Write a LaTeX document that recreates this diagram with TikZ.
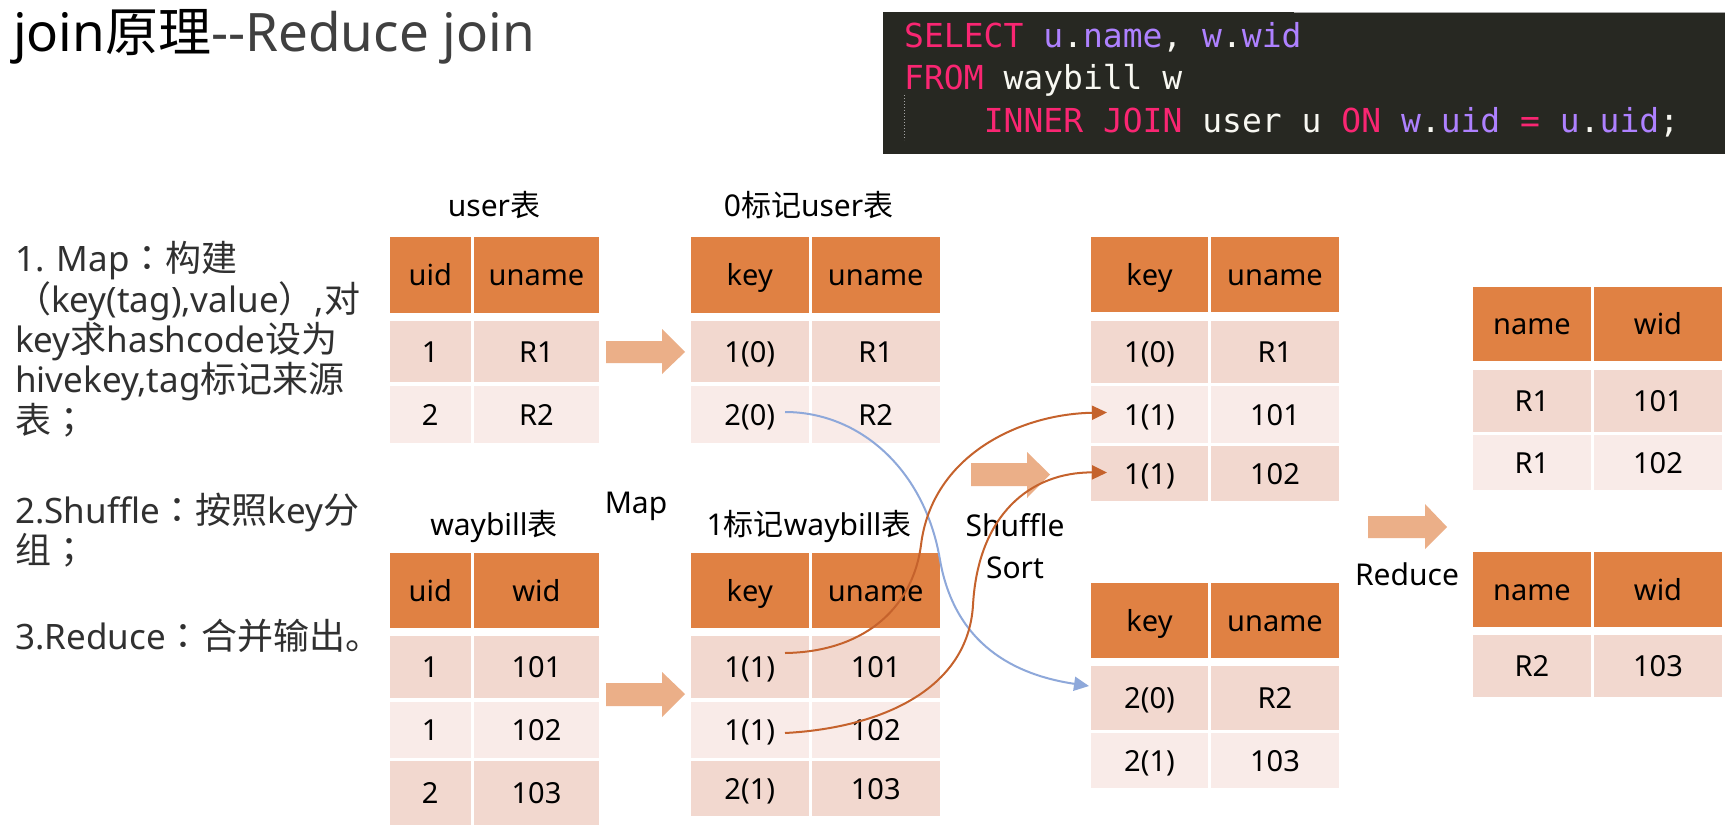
\documentclass[tikz,border=0pt]{standalone}
\usepackage{fontspec}
\setmainfont{Noto Sans}[Ligatures={TeX,NoCommon}]
\newfontfamily\cjk{Noto Sans CJK SC}
\newfontfamily\cjktc{Noto Sans CJK TC}
\newfontfamily\mono{DejaVu Sans Mono}
\newcommand\Lsc{\cjk\fontsize{36}{40}\selectfont}
\newcommand\Ltc{\cjktc\fontsize{36}{40}\selectfont}
\usetikzlibrary{arrows.meta}
\definecolor{hdr}{HTML}{E08143}
\definecolor{rowA}{HTML}{F2D8CF}
\definecolor{rowB}{HTML}{F9EBE8}
\definecolor{fatc}{HTML}{EBAF88}
\definecolor{brn}{HTML}{C5622C}
\definecolor{blu}{HTML}{8EA8DA}
\definecolor{codebg}{HTML}{272822}
\definecolor{kw}{HTML}{F92672}
\definecolor{pu}{HTML}{AE81FF}
\definecolor{wt}{HTML}{F8F8F2}
\definecolor{ltxt}{HTML}{303030}
\definecolor{tgray}{HTML}{404040}
\tikzset{
  cell/.style={inner sep=0pt, outer sep=0pt, text=black, font=\fontsize{29}{34}\selectfont, text height=21pt, text depth=0pt},
  hd/.style={cell, fill=hdr},
  ra/.style={cell, fill=rowA},
  rb/.style={cell, fill=rowB},
  sz/.style 2 args={minimum width=#1pt, minimum height=#2pt},
  lbl/.style={inner sep=0pt, anchor=base, text=black, font=\fontsize{30}{36}\selectfont},
  lefttxt/.style={inner sep=0pt, anchor=base west, text=ltxt, font=\fontsize{35}{40}\selectfont},
  codeline/.style={inner sep=0pt, anchor=base west, text=wt, font=\mono\fontsize{33}{40}\selectfont},
  fat/.style={fill=fatc},
  brnarr/.style={draw=brn, line width=2pt, -{Triangle[length=15pt,width=14pt]}},
  bluarr/.style={draw=blu, line width=2pt, -{Triangle[length=15pt,width=14pt]}},
}
\begin{document}
\begin{tikzpicture}[x=1pt,y=-1pt]
\useasboundingbox[fill=white] (0,0) rectangle (1735,835);

% title
\node[inner sep=0pt, anchor=base west, font=\fontsize{53}{60}\selectfont] (title) at (13,51)
  {join{\cjk 原理}\textcolor{tgray}{-{}-Reduce join}};

% code box
\fill[codebg] (883,12) rectangle (1725,154);
\draw[color=gray!70, line width=1.2pt] (1294,12.6) -- (1725,12.6);
\draw[color=gray!70, line width=1pt, dotted] (904,95) -- (904,140);
\node[codeline] (l1) at (904,47) {\color{kw}SELECT \color{pu}u\color{wt}.\color{pu}name\color{wt}, \color{pu}w\color{wt}.\color{pu}wid};
\node[codeline] (l2) at (904,89.5) {\color{kw}FROM \color{wt}waybill w};
\node[codeline] (l3) at (983.6,132) {\color{kw}INNER JOIN \color{wt}user u \color{kw}ON \color{pu}w\color{wt}.\color{pu}uid \color{kw}= \color{pu}u\color{wt}.\color{pu}uid\color{wt};};

% left description
\node[lefttxt] (t1) at (15,271) {1. Map{\Ltc ：}{\Lsc 构建}};
\node[lefttxt] (t2) at (15,312) {{\Ltc （}key(tag),value{\Ltc ）},{\Lsc 对}};
\node[lefttxt] (t3) at (15,352) {key{\Lsc 求}hashcode{\Lsc 设为}};
\node[lefttxt] (t4) at (15,392.5) {hivekey,tag{\Lsc 标记来源}};
\node[lefttxt] (t5) at (15,433) {{\Lsc 表}{\Ltc ；}};
\node[lefttxt] (t6) at (15,523) {2.Shuffle{\Ltc ：}{\Lsc 按照}key{\Lsc 分}};
\node[lefttxt] (t7) at (15,563) {{\Lsc 组}{\Ltc ；}};
\node[lefttxt] (t8) at (15,649) {3.Reduce{\Ltc ：}{\Lsc 合并输出。}};

% labels
\node[lbl] (tA) at (494,216) {user{\cjk 表}};
\node[lbl] (tB) at (808.6,216) {0{\cjk 标记}user{\cjk 表}};
\node[lbl] (tC) at (494,535) {waybill{\cjk 表}};
\node[lbl] (tMap) at (636,513) {Map};
\node[lbl] (tD) at (809,535) {1{\cjk 标记}waybill{\cjk 表}};
\node[lbl] (tSh) at (1015,536) {Shuffle};
\node[lbl] (tSo) at (1015,578) {Sort};
\node[lbl] (tRe) at (1407,585) {Reduce};

% Table A: user
\node[hd,sz={81.5}{76}] (a01) at (430.25,275) {uid};
\node[hd,sz={125}{76}] (a02) at (536.5,275) {uname};
\node[ra,sz={81.5}{61}] (a11) at (430.25,351.5) {1};
\node[ra,sz={125}{61}] (a12) at (536.5,351.5) {R1};
\node[rb,sz={81.5}{57}] (a21) at (430.25,414.5) {2};
\node[rb,sz={125}{57}] (a22) at (536.5,414.5) {R2};

% Table B: 0 tagged user
\node[hd,sz={118.5}{76}] (b01) at (749.75,275) {key};
\node[hd,sz={127.5}{76}] (b02) at (875.75,275) {uname};
\node[ra,sz={118.5}{61}] (b11) at (749.75,351.5) {1(0)};
\node[ra,sz={127.5}{61}] (b12) at (875.75,351.5) {R1};
\node[rb,sz={118.5}{57}] (b21) at (749.75,414.5) {2(0)};
\node[rb,sz={127.5}{57}] (b22) at (875.75,414.5) {R2};

% Table C: waybill
\node[hd,sz={81.5}{75}] (c01) at (430.25,590.5) {uid};
\node[hd,sz={125}{75}] (c02) at (536.5,590.5) {wid};
\node[ra,sz={81.5}{62}] (c11) at (430.25,667) {1};
\node[ra,sz={125}{62}] (c12) at (536.5,667) {101};
\node[rb,sz={81.5}{56.5}] (c21) at (430.25,729.75) {1};
\node[rb,sz={125}{56.5}] (c22) at (536.5,729.75) {102};
\node[ra,sz={81.5}{64}] (c31) at (430.25,793) {2};
\node[ra,sz={125}{64}] (c32) at (536.5,793) {103};

% Table D: 1 tagged waybill
\node[hd,sz={118.5}{75}] (d01) at (749.75,590.5) {key};
\node[hd,sz={127.5}{75}] (d02) at (875.75,590.5) {uname};
\node[ra,sz={118.5}{62}] (d11) at (749.75,667) {1(1)};
\node[ra,sz={127.5}{62}] (d12) at (875.75,667) {101};
\node[rb,sz={118.5}{56.5}] (d21) at (749.75,729.75) {1(1)};
\node[rb,sz={127.5}{56.5}] (d22) at (875.75,729.75) {102};
\node[ra,sz={118.5}{55}] (d31) at (749.75,788.5) {2(1)};
\node[ra,sz={127.5}{55}] (d32) at (875.75,788.5) {103};

% Table E: shuffle group 1
\node[hd,sz={117}{75}] (e01) at (1149.5,274.5) {key};
\node[hd,sz={128}{75}] (e02) at (1275,274.5) {uname};
\node[ra,sz={117}{62}] (e11) at (1149.5,352) {1(0)};
\node[ra,sz={128}{62}] (e12) at (1275,352) {R1};
\node[rb,sz={117}{57}] (e21) at (1149.5,414.5) {1(1)};
\node[rb,sz={128}{57}] (e22) at (1275,414.5) {101};
\node[ra,sz={117}{55}] (e31) at (1149.5,473.5) {1(1)};
\node[ra,sz={128}{55}] (e32) at (1275,473.5) {102};

% Table F: shuffle group 2
\node[hd,sz={117}{75}] (f01) at (1149.5,620.5) {key};
\node[hd,sz={128}{75}] (f02) at (1275,620.5) {uname};
\node[ra,sz={117}{64}] (f11) at (1149.5,698) {2(0)};
\node[ra,sz={128}{64}] (f12) at (1275,698) {R2};
\node[rb,sz={117}{55}] (f21) at (1149.5,760.5) {2(1)};
\node[rb,sz={128}{55}] (f22) at (1275,760.5) {103};

% Table G: reduce 1
\node[hd,sz={118}{74}] (g01) at (1532,324) {name};
\node[hd,sz={128}{74}] (g02) at (1658,324) {wid};
\node[ra,sz={118}{62}] (g11) at (1532,401) {R1};
\node[ra,sz={128}{62}] (g12) at (1658,401) {101};
\node[rb,sz={118}{55}] (g21) at (1532,462.5) {R1};
\node[rb,sz={128}{55}] (g22) at (1658,462.5) {102};

% Table H: reduce 2
\node[hd,sz={118}{75}] (h01) at (1532,589.5) {name};
\node[hd,sz={128}{75}] (h02) at (1658,589.5) {wid};
\node[ra,sz={118}{62}] (h11) at (1532,666) {R2};
\node[ra,sz={128}{62}] (h12) at (1658,666) {103};

% fat block arrows
\fill[fat] (606,341) -- (662,341) -- (662,329) -- (685,352) -- (662,374) -- (662,363) -- (606,363) -- cycle;
\fill[fat] (606,683) -- (662,683) -- (662,672) -- (685,694) -- (662,717) -- (662,706) -- (606,706) -- cycle;
\fill[fat] (971,463) -- (1027,463) -- (1027,452) -- (1050,474.5) -- (1027,498) -- (1027,486) -- (971,486) -- cycle;
\fill[fat] (1368,516) -- (1425,516) -- (1425,504) -- (1447,527) -- (1425,549) -- (1425,538) -- (1368,538) -- cycle;

% curved connectors
\coordinate (bs) at (785,412);
\coordinate (r1s) at (785,653);
\coordinate (r2s) at (785,733);
\draw[bluarr] (bs) .. controls (860,412) and (925,470) .. (940,560)
  .. controls (955,645) and (1015,675) .. ([shift={(-2pt,12pt)}]f11.west);
\draw[brnarr] (r1s) .. controls (860,652) and (912,612) .. (921,545)
  .. controls (932,455) and (1020,414) .. ([shift={(16pt,2pt)}]e21.west);
\draw[brnarr] (r2s) .. controls (880,728) and (968,690) .. (973,605)
  .. controls (978,515) and (1030,472) .. ([shift={(16pt,1pt)}]e31.west);
\end{tikzpicture}
\end{document}
